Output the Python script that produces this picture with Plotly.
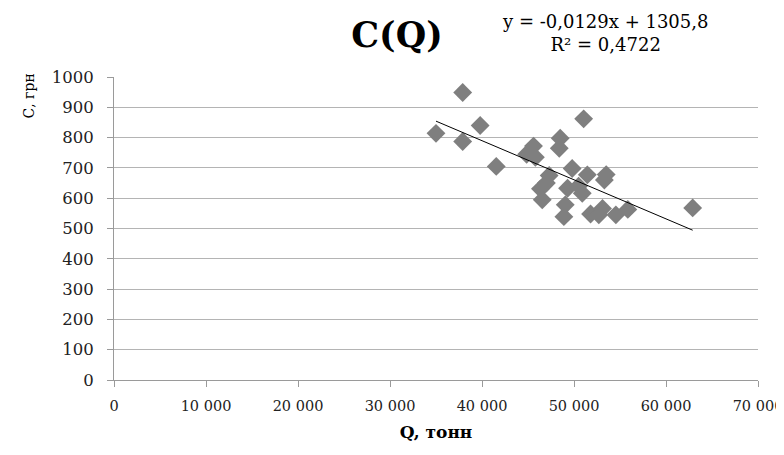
import plotly.graph_objects as go

# Data
q_tonn = [35000, 37900, 37900, 39800, 41550, 44850, 45600, 45800, 46350, 46550,
          47300, 47000, 48400, 48500, 49050, 48900, 49300, 49800, 50900, 51050,
          51450, 51800, 52700, 53100, 53500, 53300, 54550, 55850, 62900, 50500]
c_grn = [814, 949, 787, 840, 705, 745, 772, 735, 631, 595,
         675, 650, 765, 798, 578, 539, 633, 698, 616, 862,
         677, 548, 545, 566, 678, 660, 545, 563, 568, 640]

# Linear trend from the reference
trend_slope = -0.0129
trend_intercept = 1305.8
trend_label = "y = -0,0129x + 1305,8<br>R² = 0,4722"

x_ticks = [0, 10000, 20000, 30000, 40000, 50000, 60000, 70000]
y_ticks = [0, 100, 200, 300, 400, 500, 600, 700, 800, 900, 1000]

serif = "DejaVu Serif"

tx = [min(q_tonn), max(q_tonn)]
ty = [trend_slope * v + trend_intercept for v in tx]

fig = go.Figure()
fig.add_trace(go.Scatter(
    x=q_tonn, y=c_grn, mode="markers",
    marker=dict(symbol="diamond", size=14.5, color="#7f7f7f", line=dict(width=0)),
    showlegend=False, hoverinfo="x+y"))
fig.add_trace(go.Scatter(
    x=tx, y=ty, mode="lines", line=dict(color="#000000", width=1),
    showlegend=False, hoverinfo="skip"))

fig.update_layout(
    width=784, height=447,
    margin=dict(l=106, r=34, t=69, b=75, autoexpand=False),
    paper_bgcolor="white", plot_bgcolor="white",
    separators=", ",
    font=dict(family=serif, size=16, color="#222222"),
    title=dict(text="<b>C(Q)</b>", x=389 / 784, xanchor="center", y=0.94, yanchor="middle",
               font=dict(family=serif, size=35, color="#000000")),
    xaxis=dict(range=[0, 70000], tickvals=x_ticks, tickformat=",.0f",
               automargin=False,
               showgrid=False, zeroline=False,
               showline=True, linecolor="#9a9a9a", linewidth=1,
               ticks="outside", ticklen=6, tickcolor="#9a9a9a",
               ticklabelstandoff=7, ticklabeloverflow="allow",
               tickfont=dict(family=serif, size=14.5, color="#222222"),
               title=dict(text="<b>Q, тонн</b>", standoff=12,
                          font=dict(family=serif, size=17, color="#000000"))),
    yaxis=dict(range=[0, 1000], tickvals=y_ticks,
               automargin=False,
               showgrid=True, gridcolor="#b4b4b4", gridwidth=1, zeroline=False,
               showline=True, linecolor="#9a9a9a", linewidth=1,
               ticks="outside", ticklen=6, tickcolor="#9a9a9a",
               ticklabelstandoff=10,
               tickfont=dict(family=serif, size=16.5, color="#222222")),
)

fig.add_annotation(text="С, грн", xref="paper", yref="paper", x=-0.1335, y=1.0165,
                   xanchor="center", yanchor="top", textangle=-90, showarrow=False,
                   font=dict(family=serif, size=14, color="#000000"))
fig.add_annotation(text=trend_label, xref="paper", yref="paper", x=0.762, y=1.145,
                   xanchor="center", yanchor="middle", showarrow=False, align="center",
                   font=dict(family=serif, size=18, color="#000000"))

fig.write_html("out.html")
